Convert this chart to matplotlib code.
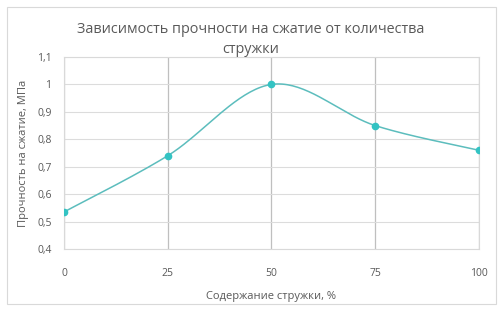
import matplotlib.pyplot as plt
import numpy as np
from matplotlib.patches import Rectangle

# данные
content = [0, 25, 50, 75, 100]
strength = [0.535, 0.74, 1.0, 0.85, 0.76]
x_ticks = [0, 25, 50, 75, 100]
y_ticks = [0.4, 0.5, 0.6, 0.7, 0.8, 0.9, 1.0, 1.1]
y_tick_labels = ['0,4', '0,5', '0,6', '0,7', '0,8', '0,9', '1', '1,1']

plt.rcParams['font.family'] = ['Open Sans', 'DejaVu Sans']


def smooth(xs, ys, n=40):
    # сглаживание как в Excel (кривые Безье с контрольными точками Catmull-Rom)
    xs = np.asarray(xs, float)
    ys = np.asarray(ys, float)
    px = np.concatenate([[xs[0]], xs, [xs[-1]]])
    py = np.concatenate([[ys[0]], ys, [ys[-1]]])
    outx, outy = [], []
    t = np.linspace(0, 1, n)
    for i in range(1, len(px) - 2):
        p0 = np.array([px[i], py[i]])
        p3 = np.array([px[i + 1], py[i + 1]])
        p1 = p0 + (np.array([px[i + 1], py[i + 1]]) - np.array([px[i - 1], py[i - 1]])) / 6
        p2 = p3 - (np.array([px[i + 2], py[i + 2]]) - np.array([px[i], py[i]])) / 6
        b = ((1 - t) ** 3)[:, None] * p0 + (3 * (1 - t) ** 2 * t)[:, None] * p1 \
            + (3 * (1 - t) * t ** 2)[:, None] * p2 + (t ** 3)[:, None] * p3
        outx.extend(b[:, 0])
        outy.extend(b[:, 1])
    return outx, outy


fig = plt.figure(figsize=(5.02, 3.11), dpi=100)
ax = fig.add_axes([0.1275, 0.1994, 0.8265, 0.6173])

# рамка вокруг диаграммы
fig.patches.append(Rectangle((0.014, 0.022), 0.975, 0.955, transform=fig.transFigure,
                             fill=False, edgecolor='#d9d9d9', linewidth=0.8))

sx, sy = smooth(content, strength)
ax.plot(sx, sy, color='#5cbdbd', linewidth=1.1, zorder=3)
ax.plot(content, strength, 'o', color='#33c3c3', markersize=4.5, zorder=4)

ax.set_xlim(0, 100)
ax.set_ylim(0.4, 1.1)
ax.set_xticks(x_ticks)
ax.set_yticks(y_ticks)
ax.set_yticklabels(y_tick_labels)
ax.tick_params(length=0, labelsize=7.5, colors='#595959')
ax.tick_params(axis='x', pad=14)
ax.tick_params(axis='y', pad=9)

ax.grid(axis='x', color='#bfbfbf', linewidth=0.9)
ax.grid(axis='y', color='#dcdcdc', linewidth=0.8)
ax.set_axisbelow(True)
for side in ['top', 'right', 'left', 'bottom']:
    ax.spines[side].set_color('#d9d9d9')
    ax.spines[side].set_linewidth(0.8)

ax.set_xlabel('Содержание стружки, %', fontsize=8, color='#595959', labelpad=8)
ax.set_ylabel('Прочность на сжатие, МПа', fontsize=8, color='#595959', labelpad=6)
fig.text(0.5, 0.874, 'Зависимость прочности на сжатие от количества\nстружки',
         ha='center', va='center', fontsize=10.4, color='#595959', linespacing=1.45)

plt.savefig('out.png', dpi=100, facecolor='white')
